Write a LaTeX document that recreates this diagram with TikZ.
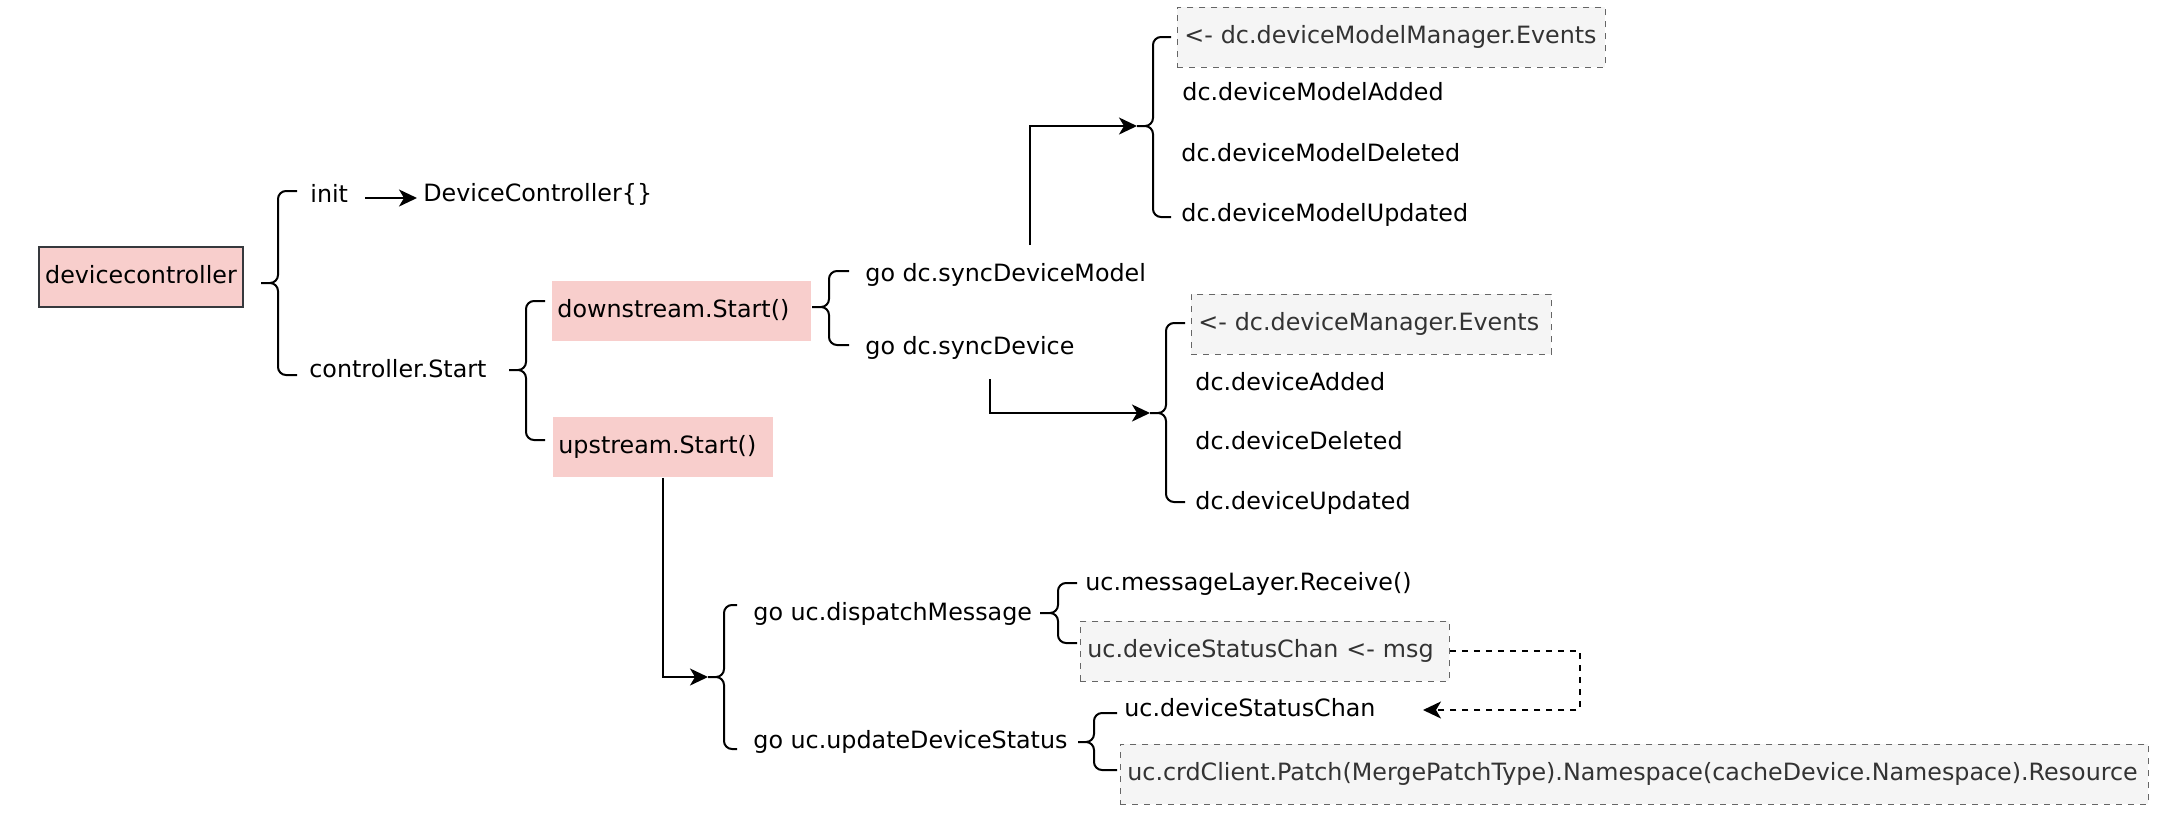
\documentclass[tikz,border=0pt]{standalone}
\usepackage{fontspec}
\setmainfont{DejaVu Sans}
\usetikzlibrary{arrows.meta}
\definecolor{pinkfill}{HTML}{F8CECC}
\definecolor{boxline}{HTML}{36393D}
\definecolor{greyfill}{HTML}{F5F5F5}
\definecolor{greyline}{HTML}{666666}
\definecolor{greytext}{HTML}{333333}

\begin{document}
\begin{tikzpicture}[x=0.5pt, y=-0.5pt,
                    every node/.style={font=\fontsize{11.9pt}{14pt}\selectfont},
                    lbl/.style={inner sep=0pt, anchor=west, text height=8.9pt, text depth=0pt},
                    root/.style={draw=boxline, line width=1pt, fill=pinkfill, minimum width=102pt, minimum height=30pt, inner sep=0pt, text height=8.9pt, text depth=2.8pt},
                    call/.style={fill=pinkfill, anchor=north west, minimum height=30pt, inner xsep=2.5pt, inner ysep=0pt, text width=#1, align=left, text height=8.9pt, text depth=2.8pt},
                    chan/.style={draw=greyline, dash pattern=on 3pt off 3pt, fill=greyfill, text=greytext, anchor=north west, minimum height=30pt, inner xsep=3.5pt, inner ysep=0pt, text width=#1, align=left, text height=8.9pt, text depth=2.8pt},
                    bracepath/.style={line width=1pt, rounded corners=4pt},
                    flow/.style={-{Stealth[length=9pt, width=8.5pt, inset=2.5pt]}, line width=1pt},
                    dflow/.style={flow, dash pattern=on 3pt off 3pt}]

    \useasboundingbox (0,0) rectangle (2160,821);

    \node[root] (dc) at (141,277) {devicecontroller};
    \node[lbl] (init) at (310,194) {init};
    \node[lbl] (newdc) at (423,193) {DeviceController\{\}};
    \node[lbl] (ctlstart) at (309,369) {controller.Start};

    \node[call=124.5pt] (down) at (552,281) {downstream.Start()};
    \node[call=105pt] (up) at (553,417) {upstream.Start()};

    \node[lbl] (syncmodel) at (865,273) {go dc.syncDeviceModel};
    \node[lbl] (syncdev) at (865,346) {go dc.syncDevice};

    \node[chan=207pt] (modelev) at (1177,7) {<- dc.deviceModelManager.Events};
    \node[lbl] (madd) at (1182,92) {dc.deviceModelAdded};
    \node[lbl] (mdel) at (1181,153) {dc.deviceModelDeleted};
    \node[lbl] (mupd) at (1181,213) {dc.deviceModelUpdated};

    \node[chan=173pt] (devev) at (1191,294) {<- dc.deviceManager.Events};
    \node[lbl] (dadd) at (1195,382) {dc.deviceAdded};
    \node[lbl] (ddel) at (1195,441) {dc.deviceDeleted};
    \node[lbl] (dupd) at (1195,501) {dc.deviceUpdated};

    \node[lbl] (dispatch) at (753,612) {go uc.dispatchMessage};
    \node[lbl] (update) at (753,740) {go uc.updateDeviceStatus};
    \node[lbl] (receive) at (1085,582) {uc.messageLayer.Receive()};
    \node[chan=177.5pt] (chanmsg) at (1080,621) {uc.deviceStatusChan <- msg};
    \node[lbl] (statuschan) at (1124,708) {uc.deviceStatusChan};
    \node[chan=507pt] (patch) at (1120,744) {uc.crdClient.Patch(MergePatchType).Namespace(cacheDevice.Namespace).Resource};

    % brace tips and free ends
    \coordinate (bmodel) at (1137,126);
    \coordinate (bdev) at (1150,413);
    \coordinate (bup) at (708,677);
    \coordinate (mstem) at (1030,245);
    \coordinate (dstem) at (990,379);
    \coordinate (chanend) at (1423,710);

    \draw[bracepath] (297,191) -- (278,191) -- (278,283) -- (261,283) (261,283) -- (278,283) -- (278,375) -- (297,375);
    \draw[bracepath] (545,301) -- (526,301) -- (526,370) -- (509,370) (509,370) -- (526,370) -- (526,440) -- (545,440);
    \draw[bracepath] (849,271) -- (829,271) -- (829,307) -- (812,307) (812,307) -- (829,307) -- (829,345) -- (849,345);
    \draw[bracepath] (1171,37) -- (1153,37) -- (1153,126) -- (1137,126) (1137,126) -- (1153,126) -- (1153,217) -- (1171,217);
    \draw[bracepath] (1185,323) -- (1166,323) -- (1166,413) -- (1150,413) (1150,413) -- (1166,413) -- (1166,502) -- (1185,502);
    \draw[bracepath] (737,605) -- (724,605) -- (724,677) -- (708,677) (708,677) -- (724,677) -- (724,749) -- (737,749);
    \draw[bracepath] (1077,583) -- (1058,583) -- (1058,613) -- (1040,613) (1040,613) -- (1058,613) -- (1058,643) -- (1077,643);
    \draw[bracepath] (1117,713) -- (1094,713) -- (1094,742) -- (1078,742) (1078,742) -- (1094,742) -- (1094,770) -- (1117,770);

    \draw[flow] ([shift={(8.5pt,-2pt)}]init.east) -- ([shift={(-3pt,-2pt)}]init.east -| newdc.west);
    \draw[flow] (mstem) |- (bmodel);
    \draw[flow] (dstem) |- (bdev);
    \draw[flow] (up.south) |- (bup);
    \draw[dflow] (chanmsg.east) -- ++(130,0) |- (chanend);
\end{tikzpicture}
\end{document}
